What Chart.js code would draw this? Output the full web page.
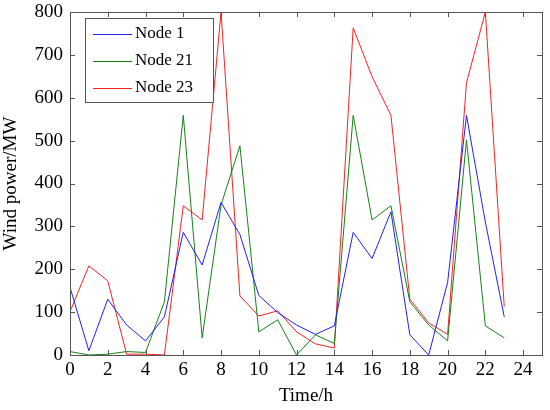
<!DOCTYPE html>
<html>
<head>
<meta charset="utf-8">
<script src="https://cdn.jsdelivr.net/npm/chart.js@4/dist/chart.umd.min.js"></script>
<style>
  html, body { margin: 0; padding: 0; background: #fff; }
  #wrap { width: 550px; height: 410px; }
</style>
</head>
<body>
<div id="wrap"><canvas id="windChart" width="550" height="410"></canvas></div>
<script>
const hours  = [0, 1, 2, 3, 4, 5, 6, 7, 8, 9, 10, 11, 12, 13, 14, 15, 16, 17, 18, 19, 20, 21, 22, 23]
const node1  = [158, 10, 130, 70, 33, 89, 286, 210, 356, 281, 139, 99, 70, 48, 68, 286, 225, 334, 47, 0, 169, 559, 310, 89]
const node21 = [8, 0, 2, 8, 6, 124, 559, 40, 350, 488, 54, 82, 0, 47, 27, 559, 315, 348, 124, 70, 33, 502, 68, 40]
const node23 = [101, 208, 173, 2, 2, 0, 348, 315, 800, 138, 91, 103, 54, 26, 16, 763, 649, 559, 130, 75, 48, 635, 800, 113]

const xTicks = [0, 2, 4, 6, 8, 10, 12, 14, 16, 18, 20, 22, 24]
const yTicks = [0, 100, 200, 300, 400, 500, 600, 700, 800]

const FONT = 'Liberation Serif'

const toPoints = vals => hours.map((h, i) => ({ x: h, y: vals[i] }))

// MATLAB-style box with inward ticks on every side
const framePlugin = {
  id: 'frame',
  afterDraw(chart) {
    const { ctx, chartArea: a, scales: { x, y } } = chart
    ctx.save()
    ctx.strokeStyle = '#555'
    ctx.lineWidth = 1
    ctx.strokeRect(Math.round(a.left) + 0.5, Math.round(a.top) + 0.5,
      Math.round(a.right - a.left), Math.round(a.bottom - a.top))
    ctx.beginPath()
    xTicks.forEach(v => {
      const px = Math.round(x.getPixelForValue(v)) + 0.5
      ctx.moveTo(px, a.bottom); ctx.lineTo(px, a.bottom - 5)
      ctx.moveTo(px, a.top);    ctx.lineTo(px, a.top + 5)
    })
    yTicks.forEach(v => {
      const py = Math.round(y.getPixelForValue(v)) + 0.5
      ctx.moveTo(a.left, py);  ctx.lineTo(a.left + 5, py)
      ctx.moveTo(a.right, py); ctx.lineTo(a.right - 5, py)
    })
    ctx.stroke()
    ctx.restore()
  }
}

// legend box in upper left of the plot
const boxLegend = {
  id: 'boxLegend',
  afterDraw(chart) {
    const { ctx, chartArea: a } = chart
    const left = Math.round(a.left) + 15, top = Math.round(a.top) + 6, w = 128, h = 84
    ctx.save()
    ctx.fillStyle = '#fff'
    ctx.fillRect(left, top, w, h)
    ctx.strokeStyle = '#555'
    ctx.lineWidth = 1
    ctx.strokeRect(left + 0.5, top + 0.5, w, h)
    ctx.font = `17px "${FONT}"`
    ctx.textBaseline = 'middle'
    ctx.fillStyle = '#000'
    chart.data.datasets.forEach((ds, i) => {
      const cy = top + 16 + i * 27
      ctx.strokeStyle = ds.borderColor
      ctx.beginPath()
      ctx.moveTo(left + 8, cy + 0.5); ctx.lineTo(left + 47, cy + 0.5)
      ctx.stroke()
      ctx.fillText(ds.label, left + 50, cy)
    })
    ctx.restore()
  }
}

new Chart(document.getElementById('windChart').getContext('2d'), {
  type: 'line',
  data: {
    datasets: [
      { label: 'Node 1',  data: toPoints(node1),  borderColor: 'rgb(30,30,255)' },
      { label: 'Node 21', data: toPoints(node21), borderColor: 'rgb(20,130,20)' },
      { label: 'Node 23', data: toPoints(node23), borderColor: 'rgb(255,30,30)' }
    ]
  },
  options: {
    responsive: false,
    animation: false,
    layout: { padding: { top: 0, right: 8, left: 0, bottom: 3 } },
    elements: {
      line: { borderWidth: 1, tension: 0, fill: false },
      point: { radius: 0 }
    },
    plugins: { legend: { display: false }, tooltip: { enabled: false } },
    scales: {
      x: {
        type: 'linear',
        min: 0,
        max: 25,
        grid: { display: false, drawTicks: false },
        border: { display: false },
        afterBuildTicks: s => { s.ticks = xTicks.map(v => ({ value: v })) },
        afterFit: s => { s.height = 52; s.paddingLeft = 0; s.paddingRight = 0 },
        ticks: { color: '#000', font: { family: FONT, size: 19 }, padding: 4, maxRotation: 0 },
        title: { display: true, text: 'Time/h', color: '#000', font: { family: FONT, size: 19 }, padding: { top: 2, bottom: 0 } }
      },
      y: {
        min: 0,
        max: 800,
        grid: { display: false, drawTicks: false },
        border: { display: false },
        afterBuildTicks: s => { s.ticks = yTicks.map(v => ({ value: v })) },
        afterFit: s => { s.width = 70; s.paddingTop = 12; s.paddingBottom = 0 },
        ticks: { color: '#000', font: { family: FONT, size: 19 }, padding: 7 },
        title: { display: true, text: 'Wind power/MW', color: '#000', font: { family: FONT, size: 19 }, padding: 0 }
      }
    }
  },
  plugins: [framePlugin, boxLegend]
})
</script>
</body>
</html>
